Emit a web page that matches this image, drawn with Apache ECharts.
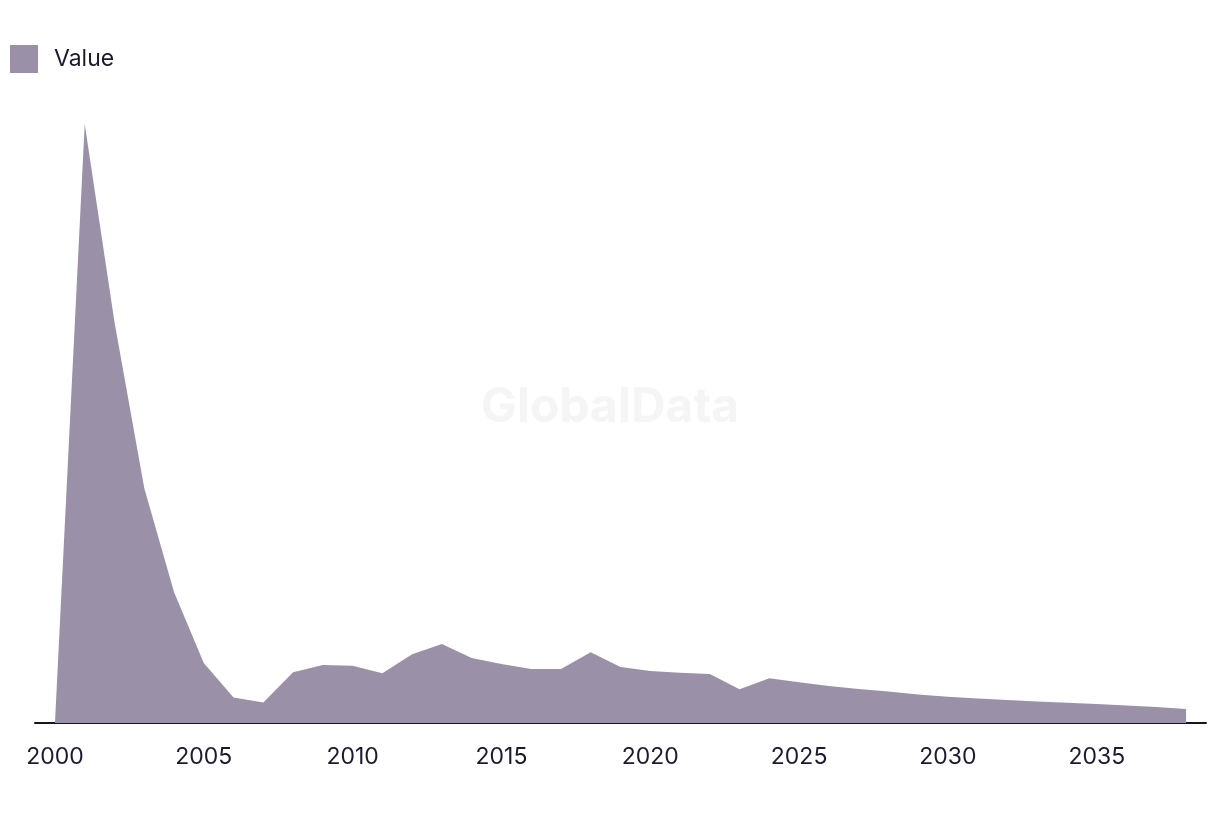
<!DOCTYPE html>
<html>
<head>
<meta charset="utf-8">
<script src="https://cdn.jsdelivr.net/npm/echarts@6/dist/echarts.min.js"></script>
<style>html,body{margin:0;padding:0;background:#fff}#c{width:1220px;height:814px}</style>
</head>
<body>
<div id="c"></div>
<script>
const years = [2000,2001,2002,2003,2004,2005,2006,2007,2008,2009,2010,2011,2012,2013,2014,2015,2016,2017,2018,2019,2020,2021,2022,2023,2024,2025,2026,2027,2028,2029,2030,2031,2032,2033,2034,2035,2036,2037,2038];
const values = [0,599,401,235,131,60,25.5,20.5,50.7,58,57.3,49.7,68.7,79,65,59,54,54,70.7,56,52,50.3,49,33.7,44.7,40.7,37,34,31.5,28.5,26.3,24.5,23,21.5,20.3,19,17.5,16,14];
const tickLabels = [2000,2005,2010,2015,2020,2025,2030,2035];
const seriesName = 'Value';

const chart = echarts.init(document.getElementById('c'), null, {renderer:'canvas'});
const font = 'Inter, "Noto Sans", sans-serif';
chart.setOption({
  animation: false,
  backgroundColor: '#ffffff',
  graphic: [{
    type: 'text', left: 'center', top: 384, z: 0,
    style: { text: 'GlobalData', fill: '#f5f5f5', font: 'bold 48px ' + font }
  }],
  legend: {
    show: true, left: 5, top: 40, itemWidth: 28, itemHeight: 28, icon: 'rect',
    textStyle: { fontFamily: font, fontSize: 23, color: '#1d1a2f', padding: [0,0,0,11] }
  },
  grid: { left: 35, right: 14, top: 100, bottom: 91, containLabel: false },
  xAxis: {
    type: 'value', min: 1999.33, max: 2038.67,
    splitLine: { show: false },
    axisTick: { show: false },
    axisLine: { show: true, lineStyle: { color: '#15122a', width: 2 } },
    axisLabel: {
      customValues: tickLabels, margin: 23,
      fontFamily: font, fontSize: 23, color: '#1d1a2f',
      formatter: v => String(v)
    }
  },
  yAxis: { type: 'value', min: 0, max: 623, show: false, splitLine: { show: false } },
  series: [{
    name: seriesName, type: 'line', symbol: 'none',
    data: years.map((y, i) => [y, values[i]]),
    lineStyle: { width: 0, color: '#9a91a9' },
    itemStyle: { color: '#9a91a9' },
    areaStyle: { color: '#9a91a9', opacity: 1 },
    z: 2
  }]
});
</script>
</body>
</html>
